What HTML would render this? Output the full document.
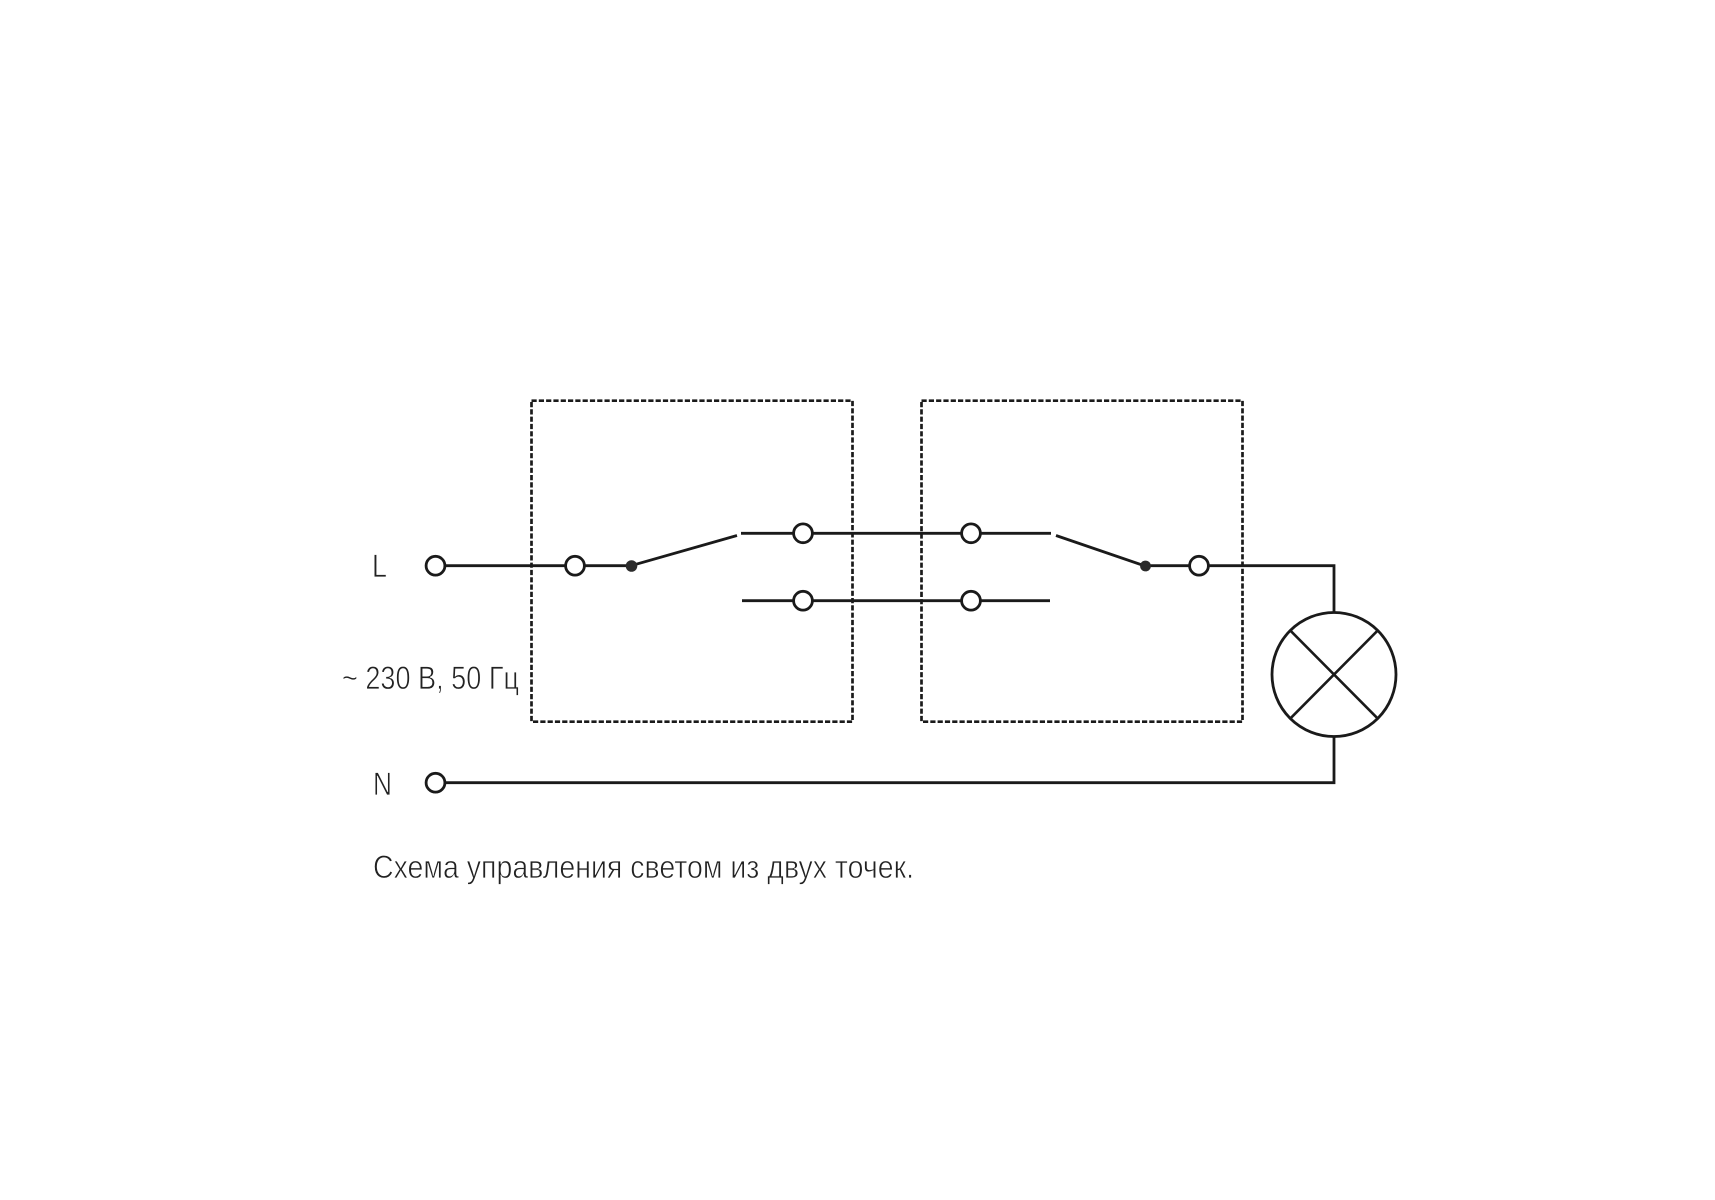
<!DOCTYPE html>
<html>
<head>
<meta charset="utf-8">
<style>
html,body{margin:0;padding:0;background:#fff;width:1715px;height:1200px;overflow:hidden}
svg{display:block}
text{font-family:"Liberation Sans",sans-serif;font-weight:400;fill:#222;stroke:#fff;stroke-width:.7px}
</style>
</head>
<body>
<svg width="1715" height="1200" viewBox="0 0 1715 1200" xmlns="http://www.w3.org/2000/svg">
<rect width="1715" height="1200" fill="#fff"/>
<g fill="none" stroke="#1a1a1a" stroke-width="2.7" stroke-dasharray="5.2 2.1">
<rect x="531.5" y="400.7" width="321" height="321"/>
<rect x="921.5" y="400.7" width="321" height="321"/>
</g>
<g fill="none" stroke="#1a1a1a" stroke-width="2.8">
<path d="M435.5 565.7H631"/>
<path d="M631 565.7L737 535.5"/>
<path d="M741 533.3H1051"/>
<path d="M742 600.7H1050"/>
<path d="M1056 535.5L1145 566"/>
<path d="M1145 565.7H1334V612"/>
<path d="M435.5 782.7H1334V737"/>
</g>
<g fill="#fff" stroke="#1a1a1a" stroke-width="2.8">
<circle cx="435.5" cy="565.7" r="9.4"/>
<circle cx="575" cy="565.7" r="9.4"/>
<circle cx="803" cy="533.3" r="9.4"/>
<circle cx="803" cy="600.7" r="9.4"/>
<circle cx="971" cy="533.3" r="9.4"/>
<circle cx="971" cy="600.7" r="9.4"/>
<circle cx="1199" cy="565.7" r="9.4"/>
<circle cx="435.5" cy="782.7" r="9.4"/>
<circle cx="1334" cy="674.5" r="62"/>
</g>
<path d="M1290.5 630.7L1377.5 718.3M1377.5 630.7L1290.5 718.3" fill="none" stroke="#1a1a1a" stroke-width="2.6"/>
<circle cx="631.5" cy="566" r="5.8" fill="#2b2b2b"/>
<circle cx="1145.5" cy="566" r="5.4" fill="#2b2b2b"/>
<text x="372" y="577" font-size="32" textLength="15" lengthAdjust="spacingAndGlyphs">L</text>
<text x="373" y="795" font-size="32" textLength="19" lengthAdjust="spacingAndGlyphs">N</text>
<text x="342" y="689" font-size="32" textLength="177" lengthAdjust="spacingAndGlyphs">~ 230 В, 50 Гц</text>
<text x="373" y="878" font-size="32" textLength="541" lengthAdjust="spacingAndGlyphs">Схема управления светом из двух точек.</text>
</svg>
</body>
</html>
